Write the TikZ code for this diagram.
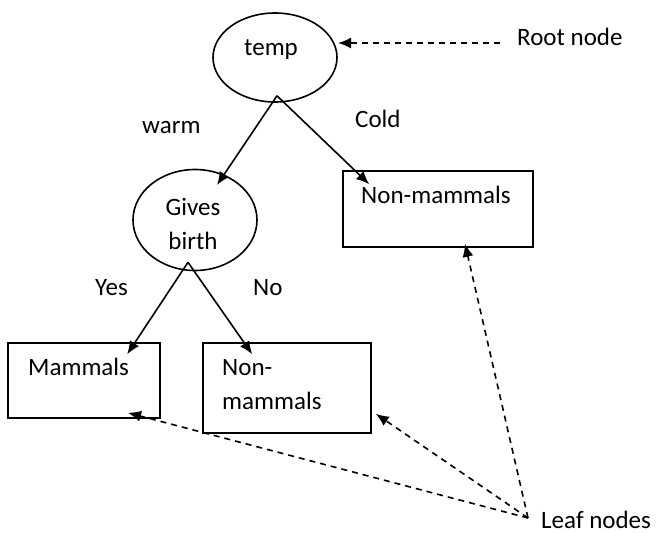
\documentclass[tikz,border=0pt]{standalone}
\usepackage{fontspec}
\setmainfont{Carlito}
\usetikzlibrary{shapes.geometric,arrows.meta,calc}

\begin{document}
\begin{tikzpicture}[x=1pt,y=-1pt,
        every node/.style={font=\fontsize{25}{34}\selectfont, inner sep=0pt},
        test/.style={draw, ellipse, line width=1.6pt, minimum width=124pt},
        leaf/.style={draw, rectangle, line width=1.6pt},
        arr/.style={line width=1.6pt, -{Latex[length=13pt,width=11pt]}},
        darr/.style={arr, dash pattern=on 6pt off 5pt}]
    \useasboundingbox (0,0) rectangle (657,533);

    % tests
    \node[test, minimum height=89pt] (temp) at (275,57.5) {};
    \node[anchor=base] (tempText) at (271,55) {temp};
    \node[test, minimum height=101pt] (gives) at (195,220) {};
    \node[anchor=base, align=center] (givesText) at (193,249) {Gives\\birth};

    % leaves
    \node[leaf, minimum width=190pt, minimum height=76pt] (nmTop) at (438,209) {};
    \node[anchor=base west] (nmTopText) at (361,203) {Non-mammals};
    \node[leaf, minimum width=152pt, minimum height=75pt] (mammals) at (84,380.5) {};
    \node[anchor=base west] (mammalsText) at (28,375) {Mammals};
    \node[leaf, minimum width=168pt, minimum height=90pt] (nmLow) at (287,388) {};
    \node[anchor=base west, align=left] (nmLowText) at (222,409) {Non-\\mammals};

    % branch labels
    \node[anchor=base west] (warm) at (142,133) {warm};
    \node[anchor=base west] (cold) at (355,127) {Cold};
    \node[anchor=base west] (yes) at (95,295) {Yes};
    \node[anchor=base west] (no) at (253,295) {No};

    % notes
    \node[anchor=base west] (rootText) at (517,45) {Root node};
    \node[anchor=base west] (leafText) at (541,528) {Leaf nodes};

    \coordinate (tempTip) at ($(temp.south)+(2,-7)$);
    \coordinate (givesTip) at ($(gives.south)+(-7,-9)$);
    \coordinate (leafFrom) at ($(leafText.base west)+(-13,-10)$);

    \draw[arr] (tempTip) -- ($(gives.center)+(22,-35)$);
    \draw[arr] (tempTip) -- ($(nmTop.north west)+(27,14)$);
    \draw[arr] (givesTip) -- ($(mammals.north west)+(120,12)$);
    \draw[arr] (givesTip) -- ($(nmLow.north west)+(50,12)$);

    \draw[darr] ($(rootText.base west)+(-17,-2)$) -- ($(temp.center)+(63,-14.5)$);
    \draw[darr] (leafFrom) -- ($(nmTop.south)+(27,-4)$);
    \draw[darr] (leafFrom) -- ($(nmLow.south east)+(4,-20)$);
    \draw[darr] (leafFrom) -- ($(mammals.south)+(44,-6)$);
\end{tikzpicture}
\end{document}
